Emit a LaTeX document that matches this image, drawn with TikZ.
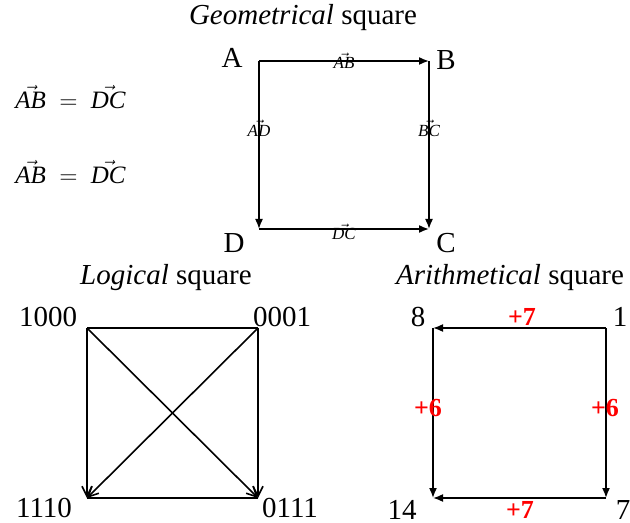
\documentclass[tikz,border=0pt]{standalone}
\usepackage{fontspec}
\setmainfont{Liberation Serif}
\usetikzlibrary{arrows.meta}
\newcommand{\vecl}[1]{\ensuremath{\vec{\textit{#1}}}}

\begin{document}
\begin{tikzpicture}[x=0.5pt, y=-0.5pt,
        every node/.style={inner sep=0pt},
        title/.style={font=\fontsize{14.5}{17}\selectfont},
        corner/.style={font=\fontsize{14.5}{17}\selectfont},
        vlab/.style={font=\fontsize{8.5}{10}\selectfont},
        eqn/.style={font=\fontsize{12.5}{15}\selectfont, anchor=west},
        plus/.style={font=\fontsize{13}{15}\selectfont\bfseries, text=red},
        side/.style={line width=0.8pt},
        fullarr/.style={side, -{Latex[length=5pt, width=4pt]}},
        openarr/.style={side, -{Straight Barb[length=5pt, width=5pt]}}
    ]
    \useasboundingbox (0,0) rectangle (630,523);

    % geometrical square
    \node[title] (gtitle) at (303,18) {\textit{Geometrical} square};
    \coordinate (A) at (259,61);
    \coordinate (B) at (429,61);
    \coordinate (C) at (429,229);
    \coordinate (D) at (259,229);
    \node[corner] (lA) at (232,58) {A};
    \node[corner] (lB) at (446,60) {B};
    \node[corner] (lC) at (446,243) {C};
    \node[corner] (lD) at (234,243) {D};

    \draw[fullarr] (A) -- node[vlab] {\vecl{AB}} (B);
    \draw[fullarr] (A) -- node[vlab, pos=0.4] {\vecl{AD}} (D);
    \draw[fullarr] (B) -- node[vlab, pos=0.4] {\vecl{BC}} (C);
    \draw[fullarr] (D) -- node[vlab, yshift=-1.5pt] {\vecl{DC}} (C);

    \node[eqn] (eq1) at (15,97) {$\vec{\textit{AB}} \;=\; \vec{\textit{DC}}$};
    \node[eqn] (eq2) at (15,172) {$\vec{\textit{AB}} \;=\; \vec{\textit{DC}}$};

    % logical square
    \node[title] (ltitle) at (166,278) {\textit{Logical} square};
    \coordinate (L1) at (87,328);
    \coordinate (L2) at (258,328);
    \coordinate (L3) at (87,498);
    \coordinate (L4) at (258,498);
    \node[corner] (l1000) at (48,317) {1000};
    \node[corner] (l0001) at (282,317) {0001};
    \node[corner] (l1110) at (44,508) {1110};
    \node[corner] (l0111) at (290,508) {0111};

    \draw[side] (L1) -- (L2);
    \draw[side] (L3) -- (L4);
    \draw[openarr] (L1) -- (L3);
    \draw[openarr] (L2) -- (L4);
    \draw[openarr] (L1) -- (L4);
    \draw[openarr] (L2) -- (L3);

    % arithmetical square
    \node[title] (atitle) at (510,278) {\textit{Arithmetical} square};
    \coordinate (R8) at (433,328);
    \coordinate (R1) at (606,328);
    \coordinate (R14) at (433,498);
    \coordinate (R7) at (606,498);
    \node[corner] (l8) at (418,317) {8};
    \node[corner] (l1) at (620,317) {1};
    \node[corner] (l14) at (402,510) {14};
    \node[corner] (l7) at (623,510) {7};

    \draw[fullarr] (R1) -- (R8);
    \draw[fullarr] (R8) -- (R14);
    \draw[fullarr] (R1) -- (R7);
    \draw[fullarr] (R7) -- (R14);
    \node[plus] (p1) at (522,317) {+7};
    \node[plus] (p2) at (428,408) {+6};
    \node[plus] (p3) at (605,408) {+6};
    \node[plus] (p4) at (520,510) {+7};
\end{tikzpicture}
\end{document}
